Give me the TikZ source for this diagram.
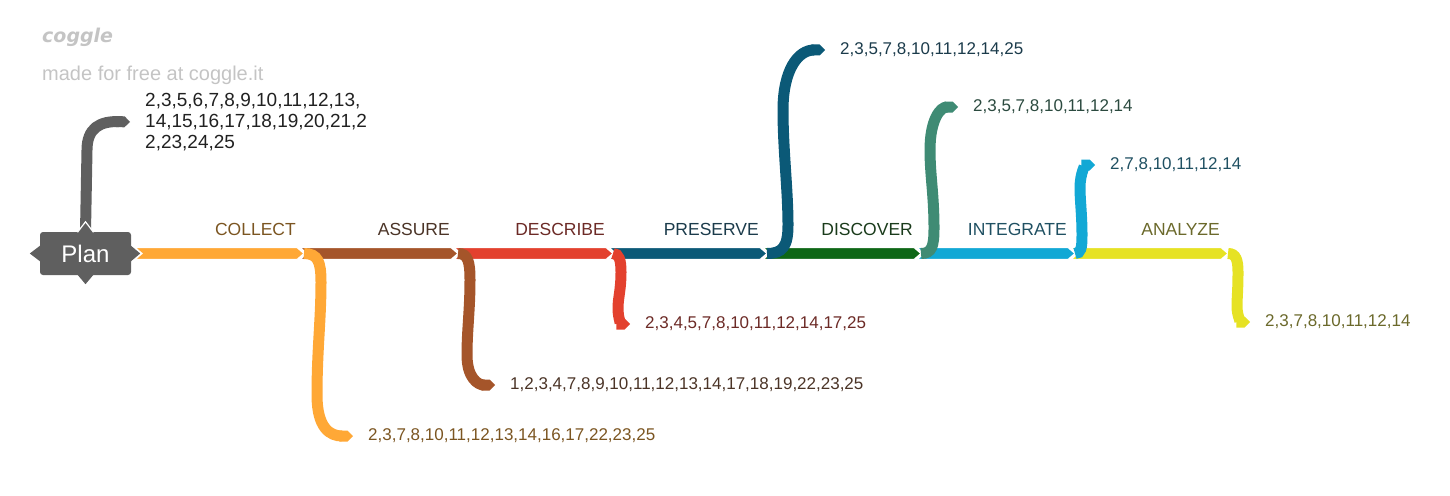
\documentclass[tikz,border=0pt]{standalone}
\usepackage{fontspec}
\setmainfont{Liberation Sans}
\newfontfamily\logofont{DejaVu Sans}
\usetikzlibrary{positioning,calc,arrows.meta}

\definecolor{coggray}{HTML}{C4C4C4}
\definecolor{plangray}{HTML}{5F5F5F}
\definecolor{collectc}{HTML}{FFA836}
\definecolor{collecttxt}{HTML}{7B5521}
\definecolor{assurec}{HTML}{A5552A}
\definecolor{assuretxt}{HTML}{4B3427}
\definecolor{describec}{HTML}{E3412E}
\definecolor{describetxt}{HTML}{6C2A26}
\definecolor{preservec}{HTML}{0B5977}
\definecolor{preservetxt}{HTML}{1B3B4B}
\definecolor{discoverc}{HTML}{0E6716}
\definecolor{discovertxt}{HTML}{1A3B1B}
\definecolor{discoverbr}{HTML}{3F8B74}
\definecolor{discoverleaf}{HTML}{2B4A3F}
\definecolor{integratec}{HTML}{12A8D5}
\definecolor{integratetxt}{HTML}{1F5062}
\definecolor{analyzec}{HTML}{E6E224}
\definecolor{analyzetxt}{HTML}{6B692B}

% one stretch of the time line, notched at the start, pointed at the end
\newcommand{\spineseg}[3]{\filldraw[fill=#3, draw=white, line width=1.2pt] ($(#1)+(-4,-6)$) -- ($(#2)+(-7,-6)$) -- (#2) -- ($(#2)+(-7,6)$) -- ($(#1)+(-4,6)$) -- ($(#1)+(3,0)$) -- cycle;}

\begin{document}
\begin{tikzpicture}[x=1pt, y=-1pt, font=\fontsize{17}{21}\selectfont, branch/.style={line width=11pt, -{Triangle Cap}}, leaf/.style={anchor=west, inner xsep=15pt, inner ysep=0pt, align=left}, stage/.style={anchor=base east, inner sep=0pt, font=\fontsize{17.5}{21}\selectfont}, plan/.style={fill=plangray, text=white, rounded corners=3pt, minimum width=91pt, minimum height=43pt, inner sep=0pt, font=\fontsize{24}{26}\selectfont}]

\useasboundingbox (0,0) rectangle (1450,495);

\node[anchor=base west, inner sep=0pt, text=coggray, font=\logofont\bfseries\itshape\fontsize{19}{20}\selectfont] (logo) at (42,43) {coggle};
\node[anchor=base west, inner sep=0pt, text=coggray, font=\fontsize{20}{21}\selectfont] (madefor) at (42,80) {made for free at coggle.it};

\coordinate (j0) at (139,253.5);
\coordinate (j1) at (304,253.5);
\coordinate (j2) at (458,253.5);
\coordinate (j3) at (613,253.5);
\coordinate (j4) at (767,253.5);
\coordinate (j5) at (921,253.5);
\coordinate (j6) at (1075,253.5);
\coordinate (j7) at (1228,253.5);

\spineseg{j0}{j1}{collectc}
\spineseg{j1}{j2}{assurec}
\spineseg{j2}{j3}{describec}
\spineseg{j3}{j4}{preservec}
\spineseg{j4}{j5}{discoverc}
\spineseg{j5}{j6}{integratec}
\spineseg{j6}{j7}{analyzec}

\node[stage, text=collecttxt] (collect) at ($(j1)+(-8,-18)$) {COLLECT};
\node[stage, text=assuretxt] (assure) at ($(j2)+(-8,-18)$) {ASSURE};
\node[stage, text=describetxt] (describe) at ($(j3)+(-8,-18)$) {DESCRIBE};
\node[stage, text=preservetxt] (preserve) at ($(j4)+(-8,-18)$) {PRESERVE};
\node[stage, text=discovertxt] (discover) at ($(j5)+(-8,-18)$) {DISCOVER};
\node[stage, text=integratetxt] (integrate) at ($(j6)+(-8,-18)$) {INTEGRATE};
\node[stage, text=analyzetxt] (analyze) at ($(j7)+(-8,-18)$) {ANALYZE};

\node[plan] (plan) at (85.5,253.5) {Plan};

\node[leaf, text=black!87, font=\fontsize{19}{21}\selectfont] (l0) at (130,122) {2,3,5,6,7,8,9,10,11,12,13,\\14,15,16,17,18,19,20,21,2\\2,23,24,25};
\node[leaf, text=collecttxt] (l1) at (353,436) {2,3,7,8,10,11,12,13,14,16,17,22,23,25};
\node[leaf, text=assuretxt] (l2) at (495,385) {1,2,3,4,7,8,9,10,11,12,13,14,17,18,19,22,23,25};
\node[leaf, text=describetxt] (l3) at (630,324) {2,3,4,5,7,8,10,11,12,14,17,25};
\node[leaf, text=preservetxt] (l4) at (825,50) {2,3,5,7,8,10,11,12,14,25};
\node[leaf, text=discoverleaf] (l5) at (958,107) {2,3,5,7,8,10,11,12,14};
\node[leaf, text=integratetxt] (l6) at (1095,165) {2,7,8,10,11,12,14};
\node[leaf, text=analyzetxt] (l7) at (1250,322) {2,3,7,8,10,11,12,14};

\draw[branch, plangray] (plan.north) -- (87,150) .. controls (87,128) and (100,121) .. (l0.west);
\draw[branch, collectc] (j1) .. controls (318,253.5) and (321,262) .. (321,282) .. controls (321,320) and (317,350) .. (317,395) .. controls (317,428) and (330,436) .. (l1.west);
\draw[branch, assurec] (j2) .. controls (468,253.5) and (470,262) .. (470,280) .. controls (470,310) and (467,330) .. (467,355) .. controls (467,378) and (478,385) .. (l2.west);
\draw[branch, describec] (j3) .. controls (619,253.5) and (621,260) .. (621,272) .. controls (621,290) and (618,298) .. (618,308) .. controls (618,320) and (622,324) .. (l3.west);
\draw[branch, preservec] (j4) .. controls (783,253.5) and (788,246) .. (788,225) .. controls (788,190) and (783,150) .. (783,110) .. controls (783,70) and (798,50) .. (l4.west);
\draw[branch, discoverbr] (j5) .. controls (932,253.5) and (934,246) .. (934,228) .. controls (934,195) and (930,175) .. (930,150) .. controls (930,120) and (940,107) .. (l5.west);
\draw[branch, integratec] (j6) .. controls (1081,253.5) and (1082,248) .. (1082,235) .. controls (1082,215) and (1080,200) .. (1080,188) .. controls (1080,172) and (1086,165) .. (l6.west);
\draw[branch, analyzec] (j7) .. controls (1236,253.5) and (1238,260) .. (1238,272) .. controls (1238,290) and (1237,298) .. (1237,306) .. controls (1237,318) and (1242,322) .. (l7.west);

\filldraw[fill=plangray, draw=white, line width=1.2pt] ($(plan.north)+(-8,0.5)$) -- ($(plan.north)+(0,-10)$) -- ($(plan.north)+(8,0.5)$);
\fill[plangray] ($(plan.south)+(-8,-0.5)$) -- ($(plan.south)+(0,9)$) -- ($(plan.south)+(8,-0.5)$) -- cycle;
\fill[plangray] ($(plan.west)+(0.5,-8)$) -- ($(plan.west)+(-10,0)$) -- ($(plan.west)+(0.5,8)$) -- cycle;
\fill[plangray] ($(plan.east)+(-0.5,-8)$) -- ($(plan.east)+(9,0)$) -- ($(plan.east)+(-0.5,8)$) -- cycle;
\end{tikzpicture}
\end{document}
